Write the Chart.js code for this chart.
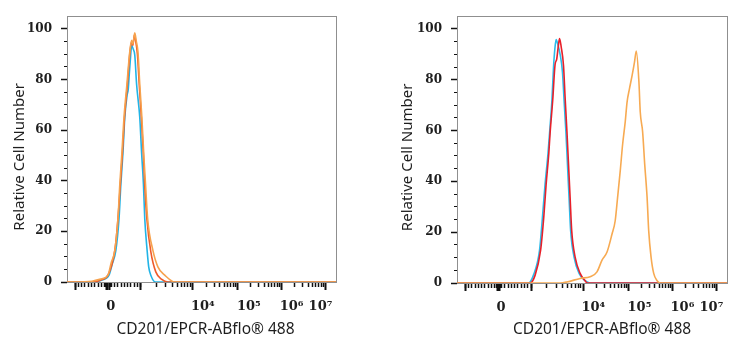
<!DOCTYPE html>
<html>
<head>
<meta charset="utf-8">
<script src="https://cdn.jsdelivr.net/npm/chart.js@4.4.1/dist/chart.umd.min.js"></script>
<style>
  html, body { margin: 0; padding: 0; background: #fff; }
  #wrap { position: relative; width: 742px; height: 350px; }
  .panel { position: absolute; top: 0; width: 371px; height: 350px; }
</style>
</head>
<body>
<div id="wrap">
  <div class="panel" style="left:0"><canvas id="chart-left" width="371" height="350"></canvas></div>
  <div class="panel" style="left:371px"><canvas id="chart-right" width="371" height="350"></canvas></div>
</div>
<script>
(function() {
  "use strict";

  // x = display channel (0-1024) on the biexponential axis, y = relative count
  var X_MIN = 0, X_MAX = 1024;
  var Y_MIN = 0, Y_MAX = 105;

  var X_LABEL_POS = [167, 517, 692, 855, 965];
  var X_LABELS = ['0', '10⁴', '10⁵', '10⁶', '10⁷'];
  var X_ZERO_POS = 156;
  var X_DECADE_POS = [281, 479, 650, 817, 984]; // 10^3 .. 10^7
  var Y_TICKS = [0, 20, 40, 60, 80, 100];

  var X_TITLE = 'CD201/EPCR-ABflo® 488';
  var Y_TITLE = 'Relative Cell Number';

  // left panel
  var LEFT_ORANGE = [[0,0],[30,0],[95,0.3],[130,1.2],[156,2.7],[168,7.5],[182,12.5],[194,25],[201,38.5],[209,51],[217,65],[228,78],[239,91],[246,95.5],[251,94],[258,98.4],[264,95],[270,91],[277,78],[285,65],[293,49],[299,38.5],[307,25],[327,12.5],[346,6],[372,2.7],[410,0],[1024,0]];
  var LEFT_RED = [[0,0],[99,0],[129,0.8],[156,2.7],[182,12.5],[194,25],[203,38.5],[211,51],[219,65],[230,78],[239,90],[246,95],[251,93.5],[256,97.5],[260,96],[268,90],[275,78],[283,65],[291,50],[296,38],[304,25],[319,12],[338,4],[361,1],[384,0],[1024,0]];
  var LEFT_CYAN = [[0,0],[99,0],[133,0.8],[160,2.7],[172,7],[186,12.5],[198,25],[205,38.5],[213,51],[220,65],[229,74],[233,76],[237,82],[242,89],[246,93.5],[252,92],[258,89.6],[265,78],[277,65],[284,51],[291,38.5],[296,25],[305,12.5],[311,6],[319,2.7],[337,0],[1024,0]];

  // right panel
  var RIGHT_ORANGE = [[0,0],[391,0],[417,0.4],[467,1.8],[505,2.5],[531,4.4],[550,9],[569,12.2],[588,19.3],[600,24.5],[609,33.6],[619,44],[628,54.4],[638,63.4],[645,71.2],[654,76.4],[664,81.6],[673,86.8],[680,91.3],[690,79],[695,67.3],[704,59.5],[712,46.6],[721,33.6],[727,20.6],[736,10.2],[746,3.8],[759,0.9],[771,0],[1024,0]];
  var RIGHT_RED = [[0,0],[277,0],[296,3],[317,12.8],[329,25.8],[338,38.8],[348,50.8],[353,58.9],[363,71.9],[372,86],[378,88],[384,93],[389,96.2],[395,93],[404,85.5],[410,73],[417,59.5],[423,46.6],[429,33.6],[435,20.6],[448,10.2],[467,3.8],[485,1],[495,0],[1024,0]];
  var RIGHT_CYAN = [[0,0],[271,0],[290,3.1],[313,12.8],[324,25.8],[334,38.8],[345,50.8],[351,58.9],[360,71.9],[366,84.8],[371,92],[376,95.8],[382,94],[391,90],[400,83],[406,72],[413,59.5],[419,46.6],[425,33.6],[431,20.6],[444,10.2],[463,3.8],[485,1],[505,0],[1024,0]];

  var FRAME = '#8f8f8f';
  var TICK = '#111111';
  var TEXT = '#1e1e1e';

  function fixedTicks(values) {
    return function(scale) {
      scale.ticks = values.map(function(v) { return { value: v }; });
    };
  }

  function majorXTicks() {
    return [X_ZERO_POS - 125, X_ZERO_POS - 4, X_ZERO_POS, X_ZERO_POS + 4].concat(X_DECADE_POS);
  }

  function minorXTicks() {
    var list = [];
    for (var i = -10; i <= 10; i++) list.push(X_ZERO_POS + i * 12.5);
    list.push(X_ZERO_POS - 8, X_ZERO_POS + 8);
    for (var d = 0; d < X_DECADE_POS.length - 1; d++) {
      var span = X_DECADE_POS[d + 1] - X_DECADE_POS[d];
      for (var m = 2; m <= 9; m++) list.push(X_DECADE_POS[d] + Math.log10(m) * span);
    }
    return list;
  }

  function minorYTicks() {
    var list = [];
    for (var v = 0; v <= 100; v += 5) list.push(v);
    return list;
  }

  function tickAxis(axis, pos, min, max, values, len, width) {
    return {
      type: 'linear', axis: axis, position: pos, min: min, max: max,
      afterBuildTicks: fixedTicks(values),
      ticks: { display: false },
      grid: { drawOnChartArea: false, drawTicks: true, tickLength: len, tickColor: TICK, tickWidth: width },
      border: { display: false }
    };
  }

  function frameAxis(axis, pos) {
    return {
      type: 'linear', axis: axis, position: pos, min: 0, max: 1,
      ticks: { display: false },
      grid: { display: false, drawTicks: false },
      border: { display: true, color: FRAME, width: 1 },
      afterFit: function(s) { if (axis === 'x') s.height = 0; else s.width = 0; }
    };
  }

  function pad(n) {
    return new Array(n + 1).join(' ');
  }

  function makePanel(canvasId, series, box) {
    var datasets = series.map(function(s) {
      return {
        data: s.points.map(function(p) { return { x: p[0], y: p[1] }; }),
        borderColor: s.color,
        borderWidth: 1.6,
        pointRadius: 0,
        fill: false,
        cubicInterpolationMode: 'monotone'
      };
    });

    new Chart(document.getElementById(canvasId), {
      type: 'line',
      data: { datasets: datasets },
      options: {
        responsive: false,
        animation: false,
        layout: { padding: { left: box.left, right: box.right, top: box.top, bottom: 0 } },
        plugins: { legend: { display: false }, tooltip: { enabled: false } },
        scales: {
          x: {
            type: 'linear', position: 'bottom', min: X_MIN, max: X_MAX,
            afterBuildTicks: fixedTicks(X_LABEL_POS),
            afterFit: function(s) { s.height = box.xHeight; },
            ticks: {
              autoSkip: false, maxRotation: 0, padding: 17, color: TEXT,
              font: { family: 'DejaVu Serif', size: 13, weight: 'bold' },
              callback: function(v, i) { return X_LABELS[i]; }
            },
            grid: { display: false, drawTicks: false },
            border: { display: true, color: FRAME, width: 1 },
            title: {
              display: true, text: pad(box.titleShift) + X_TITLE, color: TEXT,
              font: { family: 'Noto Sans', size: 15.5 },
              padding: { top: 0, bottom: 11 }
            }
          },
          xMajor: tickAxis('x', { y: 0 }, X_MIN, X_MAX, majorXTicks(), 8, 2),
          xMinor: tickAxis('x', { y: 0 }, X_MIN, X_MAX, minorXTicks(), 5, 1.5),
          xTop: frameAxis('x', 'top'),
          y: {
            type: 'linear', position: 'left', min: Y_MIN, max: Y_MAX,
            afterBuildTicks: fixedTicks(Y_TICKS),
            afterFit: function(s) { s.width = box.yWidth; },
            ticks: {
              padding: 9, color: TEXT,
              font: { family: 'DejaVu Serif', size: 12, weight: 'bold' }
            },
            grid: { drawOnChartArea: false, drawTicks: true, tickLength: 6, tickColor: TICK, tickWidth: 1.5 },
            border: { display: true, color: FRAME, width: 1 },
            title: {
              display: true, text: Y_TITLE + pad(4), color: TEXT,
              font: { family: 'Noto Sans', size: 15 },
              padding: { top: 11, bottom: 0 }
            }
          },
          yMinor: tickAxis('y', { x: 0 }, Y_MIN, Y_MAX, minorYTicks(), 3, 1),
          yRight: frameAxis('y', 'right')
        }
      }
    });
  }

  makePanel('chart-left', [
    { points: LEFT_ORANGE, color: '#f6a24e' },
    { points: LEFT_RED, color: '#ee5b2a' },
    { points: LEFT_CYAN, color: '#22b4e6' }
  ], { left: 0, right: 35, top: 12, yWidth: 67, xHeight: 68, titleShift: 2 });

  makePanel('chart-right', [
    { points: RIGHT_ORANGE, color: '#f7aa52' },
    { points: RIGHT_RED, color: '#e8202a' },
    { points: RIGHT_CYAN, color: '#2cbbea' }
  ], { left: 17, right: 15, top: 13, yWidth: 69, xHeight: 67, titleShift: 5 });
})();
</script>
</body>
</html>
